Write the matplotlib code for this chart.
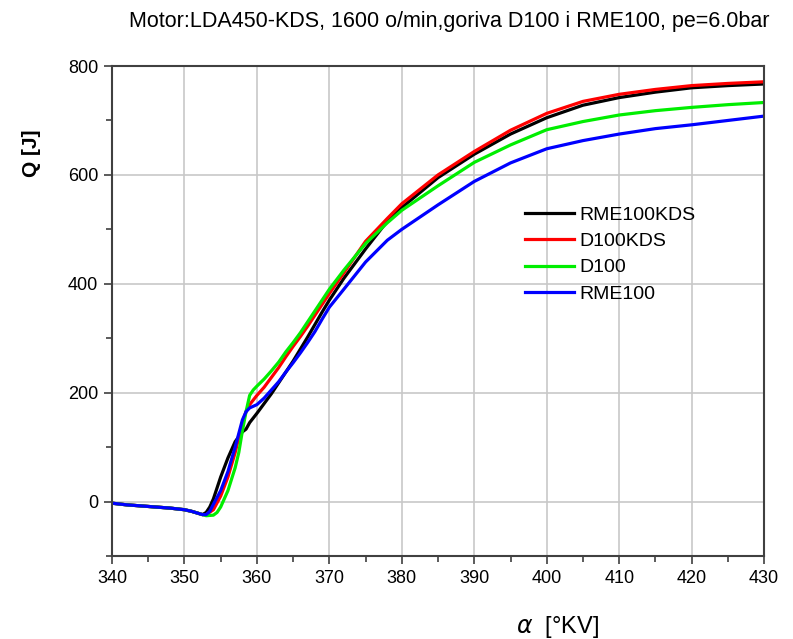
import matplotlib.pyplot as plt
from matplotlib.ticker import MultipleLocator

plt.rcParams['font.family'] = ['Liberation Sans', 'DejaVu Sans']

# common start of all curves (before ignition)
x_pre = [340, 342, 344, 346, 348, 350, 351, 352, 352.5]
q_pre = [-3, -6, -8, -10, -12, -15, -18, -22, -24]

x_rme_kds = [353, 353.5, 354, 354.5, 355, 356, 357, 358, 358.5, 359, 360, 361, 362, 363, 364, 365,
             366, 367, 368, 369, 370, 372, 375, 378, 380, 385, 390, 395, 400, 405, 410, 415, 420, 425, 430]
q_rme_kds = [-20, -10, 5, 25, 45, 80, 110, 128, 133, 145, 162, 180, 198, 218, 238, 258,
             280, 302, 325, 348, 370, 410, 464, 515, 540, 595, 638, 675, 705, 728, 742, 752, 760, 764, 767]

x_d_kds = [353, 354, 355, 356, 357, 358, 358.5, 359, 360, 361, 362, 363, 364, 365, 366, 367, 368,
           369, 370, 372, 375, 378, 380, 385, 390, 395, 400, 405, 410, 415, 420, 425, 430]
q_d_kds = [-24, -15, 10, 45, 90, 145, 165, 178, 195, 210, 228, 246, 266, 285, 303, 322, 342,
           362, 382, 420, 478, 520, 547, 600, 643, 682, 713, 735, 748, 757, 764, 768, 771]

x_d100 = [353, 354, 354.5, 355, 356, 357, 357.5, 358, 358.5, 359, 359.5, 360, 361, 362, 363, 364, 365,
          366, 367, 368, 369, 370, 372, 375, 378, 380, 385, 390, 395, 400, 405, 410, 415, 420, 425, 430]
q_d100 = [-26, -25, -20, -10, 20, 62, 90, 130, 165, 195, 205, 212, 225, 240, 256, 275, 292,
          310, 330, 350, 370, 390, 425, 474, 512, 535, 580, 623, 655, 683, 698, 710, 718, 724, 729, 733]

x_rme = [353, 353.5, 354, 355, 356, 357, 358, 358.5, 359, 360, 361, 362, 363, 364, 365, 366, 367,
         368, 369, 370, 372, 375, 378, 380, 385, 390, 395, 400, 405, 410, 415, 420, 425, 430]
q_rme = [-24, -18, -5, 20, 55, 100, 150, 165, 172, 178, 190, 205, 220, 238, 255, 273, 292,
         312, 335, 357, 390, 440, 480, 500, 545, 588, 622, 648, 663, 675, 685, 692, 700, 708]

series = [
    ('RME100KDS', x_rme_kds, q_rme_kds, '#000000'),
    ('D100KDS', x_d_kds, q_d_kds, '#ff0000'),
    ('D100', x_d100, q_d100, '#00ee00'),
    ('RME100', x_rme, q_rme, '#0000ff'),
]

fig = plt.figure(figsize=(7.93, 6.39), dpi=100)
ax = fig.add_axes([0.1412, 0.1299, 0.8224, 0.7668])

for name, xs, qs, col in series:
    ax.plot(x_pre + xs, q_pre + qs, color=col, lw=2.3, label=name)

ax.set_xlim(340, 430)
ax.set_ylim(-100, 800)
ax.xaxis.set_major_locator(MultipleLocator(10))
ax.xaxis.set_minor_locator(MultipleLocator(5))
ax.yaxis.set_major_locator(MultipleLocator(200))
ax.yaxis.set_minor_locator(MultipleLocator(100))
ax.grid(True, which='major', color='#c8c8c8', lw=1.2)
ax.set_axisbelow(True)
for s in ax.spines.values():
    s.set_color('#404040')
    s.set_linewidth(1.5)
ax.tick_params(which='major', direction='out', length=6, width=1.2, color='#404040',
               labelsize=13, top=False, right=False, pad=4)
ax.tick_params(which='minor', direction='out', length=4, width=1.2, color='#404040',
               top=False, right=False)

ax.legend(loc='upper left', bbox_to_anchor=(0.607, 0.75), frameon=False, fontsize=14,
          handlelength=2.5, handletextpad=0.3, labelspacing=0.45)

fig.text(0.567, 0.967, 'Motor:LDA450-KDS, 1600 o/min,goriva D100 i RME100, pe=6.0bar',
         ha='center', va='center', fontsize=15.5)
fig.text(0.040, 0.760, 'Q [J]', rotation=90, ha='center', va='center', fontsize=15,
         fontweight='bold')
fig.text(0.703, 0.018, r'$\alpha$  [°KV]', ha='center', va='center', fontsize=17)

fig.savefig('out.png', dpi=100)
